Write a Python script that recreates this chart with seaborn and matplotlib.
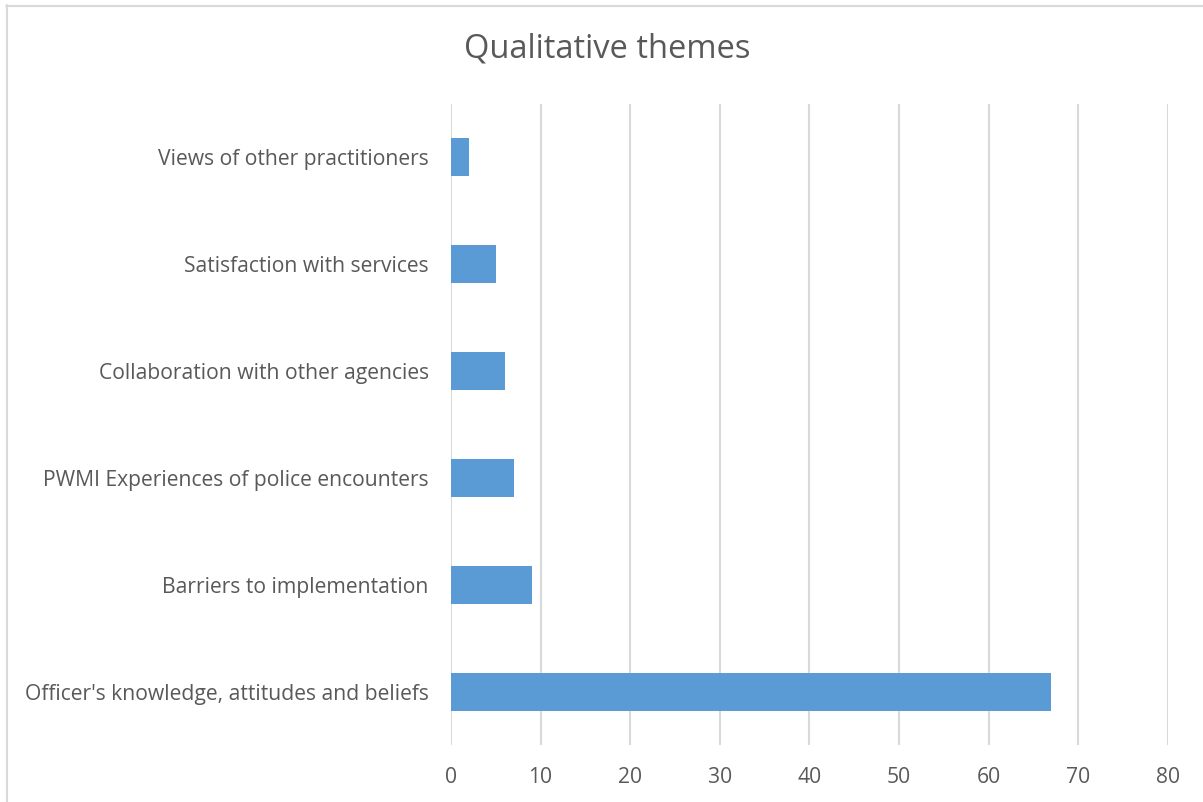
import matplotlib
matplotlib.use("Agg")
import matplotlib.pyplot as plt
from matplotlib.lines import Line2D
import seaborn as sns
import pandas as pd

themes = [
    "Views of other practitioners",
    "Satisfaction with services",
    "Collaboration with other agencies",
    "PWMI Experiences of police encounters",
    "Barriers to implementation",
    "Officer's knowledge, attitudes and beliefs",
]
counts = [2, 5, 6, 7, 9, 67]
x_ticks = [0, 10, 20, 30, 40, 50, 60, 70, 80]

sns.set_theme(style="white")
plt.rcParams["font.family"] = ["Open Sans", "DejaVu Sans"]

W, H = 1203, 802
fig = plt.figure(figsize=(W / 100, H / 100), dpi=100)
ax = fig.add_axes([451 / W, (H - 745) / H, (1167.7 - 451) / W, (745 - 104) / H])

df = pd.DataFrame({"theme": themes, "count": counts})
sns.barplot(data=df, x="count", y="theme", order=themes, color="#5B9BD5",
            saturation=1, width=0.355, linewidth=0, ax=ax, zorder=3)

text_col = "#595959"
grid_col = "#D9D9D9"
ax.set_xlim(0, 80)
ax.set_ylim(5.5, -0.5)
ax.set_xticks(x_ticks)
ax.set_xticklabels([str(t) for t in x_ticks])
ax.xaxis.grid(True, color=grid_col, linewidth=1.5, zorder=0)
ax.yaxis.grid(False)
for s in ax.spines.values():
    s.set_visible(False)
ax.tick_params(axis="both", length=0, colors=text_col, labelsize=15.2)
ax.tick_params(axis="y", pad=16)
ax.tick_params(axis="x", pad=16)
ax.set_xlabel("")
ax.set_ylabel("")

fig.text(607 / W, 1 - 49 / H, "Qualitative themes", ha="center", va="center",
         fontsize=23.5, color=text_col)

# light chart-area frame along the top and left edges
fig.add_artist(Line2D([6.5 / W, 6.5 / W], [0, 1 - 5 / H], transform=fig.transFigure,
                      color=grid_col, linewidth=1.5))
fig.add_artist(Line2D([6 / W, 1], [1 - 5.5 / H, 1 - 5.5 / H], transform=fig.transFigure,
                      color=grid_col, linewidth=1.5))

fig.savefig("out.png", dpi=100, facecolor="white")
